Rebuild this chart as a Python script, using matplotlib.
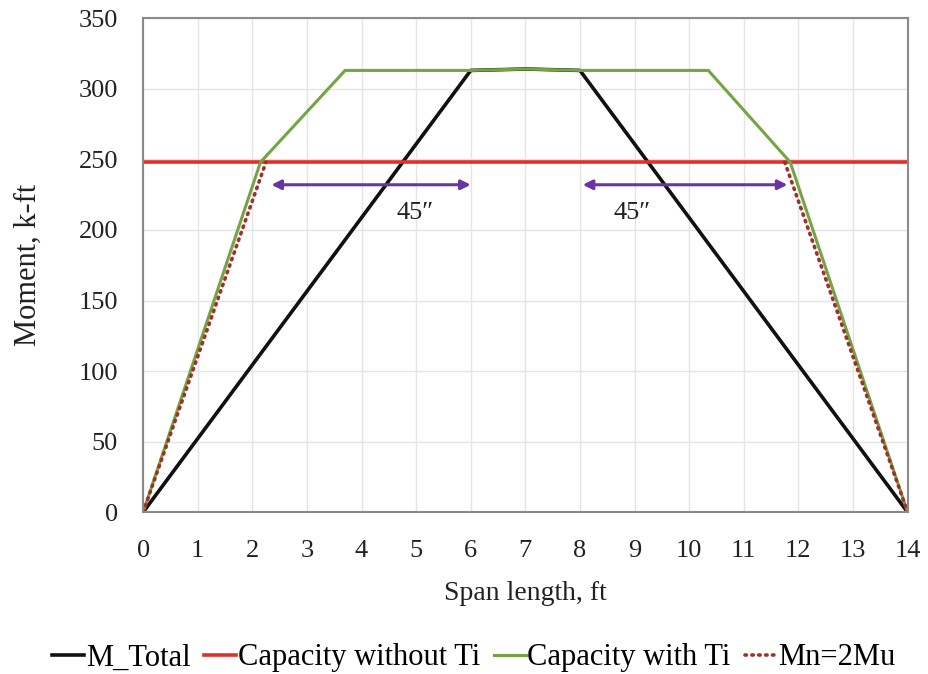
import matplotlib
matplotlib.use("Agg")
import matplotlib.pyplot as plt

plt.rcParams['font.family'] = ['Liberation Serif', 'DejaVu Serif']

# Moment demand along the span
m_total_x = [0, 6, 7, 8, 14]
m_total_y = [0, 313, 314, 313, 0]

# Flexural capacity without transverse reinforcement (constant)
cap_no_ti_x = [0, 14]
cap_no_ti_y = [248, 248]

# Flexural capacity with transverse reinforcement
cap_ti_x = [0, 2.15, 3.7, 6, 7, 8, 10.35, 11.85, 14]
cap_ti_y = [0, 248, 313, 313, 314, 313, 313, 248, 0]

# Required capacity Mn = 2Mu
mn_left_x = [0, 2.25]
mn_left_y = [0, 248]
mn_right_x = [11.75, 14]
mn_right_y = [248, 0]

# Development-length dimension arrows
arrow_y = 232
arrow_spans = [(2.35, 6.0), (8.05, 11.8)]
arrow_labels = ['45\u2033', '45\u2033']
label_pos = [(4.98, 212), (8.96, 212)]

fig = plt.figure(figsize=(9.29, 6.74), dpi=100)
ax = fig.add_axes([0.154, 0.240, 0.823, 0.733])

dot_style = dict(color='#a0302a', lw=2.6, ls=(0, (0.4, 1.5)),
                 dash_capstyle='round')

ax.plot(m_total_x, m_total_y, color='#111111', lw=2.6, label='M_Total')
ax.plot(cap_no_ti_x, cap_no_ti_y, color='#e03028', lw=2.6, label='Capacity without Ti')
ax.plot(cap_ti_x, cap_ti_y, color='#74a444', lw=2.2, label='Capacity with Ti')
ax.plot(mn_left_x, mn_left_y, label='Mn=2Mu', **dot_style)
ax.plot(mn_right_x, mn_right_y, **dot_style)

for (x0, x1) in arrow_spans:
    ax.annotate('', xy=(x1, arrow_y), xytext=(x0, arrow_y),
                arrowprops=dict(arrowstyle='<|-|>', color='#6a35a0', lw=2.2,
                                mutation_scale=14, shrinkA=0, shrinkB=0))
for (lx, ly), t in zip(label_pos, arrow_labels):
    ax.text(lx, ly, t, fontsize=19, ha='center', va='center', color='#222222')

ax.set_xlim(0, 14)
ax.set_ylim(0, 350)
ax.set_xticks(range(0, 15))
ax.set_yticks(range(0, 351, 50))
ax.grid(True, color='#e4e4e4', lw=1.0)
ax.set_axisbelow(True)
ax.tick_params(length=0, labelsize=19, colors='#222222')
ax.tick_params(axis='x', pad=20)
ax.tick_params(axis='y', pad=18)
for s in ax.spines.values():
    s.set_color('#8a8a8a')
    s.set_linewidth(1.5)

ax.set_xlabel('Span length, ft', fontsize=20, labelpad=14, color='#222222')
ax.set_ylabel('Moment, k-ft', fontsize=22, color='#222222', va='center')
ax.yaxis.set_label_coords(-0.150, 0.5)

fig.legend(loc='center', bbox_to_anchor=(0.51, 0.024), ncol=4, frameon=False,
           fontsize=22, handlelength=1.05, handletextpad=0.05, columnspacing=0.45)

fig.savefig('out.png', dpi=100)
